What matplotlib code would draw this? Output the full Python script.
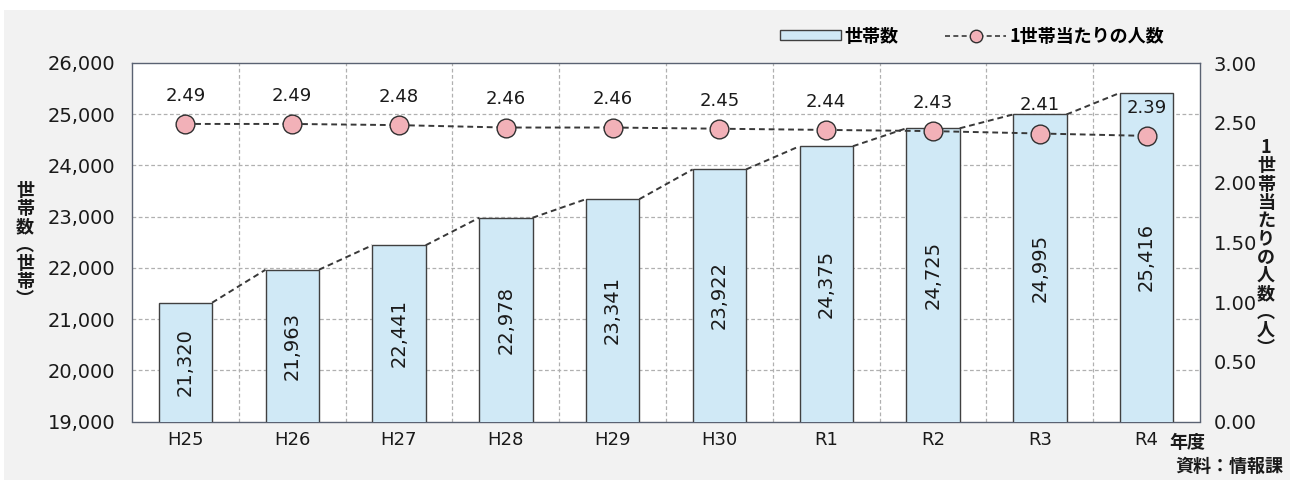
import matplotlib
matplotlib.use("Agg")
import matplotlib.pyplot as plt
from matplotlib.patches import Rectangle
from matplotlib.lines import Line2D

plt.rcParams['font.family'] = ['DejaVu Sans', 'Noto Sans CJK JP']
JP = ['Noto Sans CJK JP', 'DejaVu Sans']

categories = ["H25", "H26", "H27", "H28", "H29", "H30", "R1", "R2", "R3", "R4"]
households = [21320, 21963, 22441, 22978, 23341, 23922, 24375, 24725, 24995, 25416]
persons = [2.49, 2.49, 2.48, 2.46, 2.46, 2.45, 2.44, 2.43, 2.41, 2.39]
left_ticks = [19000, 20000, 21000, 22000, 23000, 24000, 25000, 26000]
right_ticks = [0.0, 0.5, 1.0, 1.5, 2.0, 2.5, 3.0]

BAR_FC = "#d0e9f6"
EDGE = "#404040"
MARKER_FC = "#f2b1b8"
BG = "#f2f2f2"
GRID = "#b0b0b0"
FRAME = "#5a6272"
TXT = "#1a1a1a"
LINE = "#383838"

fig = plt.figure(figsize=(12.9, 4.8), dpi=100)
fig.patch.set_facecolor("white")
fig.add_artist(Rectangle((4 / 1290, 0), 1 - 4 / 1290, 1 - 10 / 480,
                         transform=fig.transFigure, facecolor=BG,
                         edgecolor="none", zorder=-10))

ax = fig.add_axes([132 / 1290, 1 - 421.5 / 480, (1200 - 132) / 1290, (421.5 - 63) / 480])
ax.set_facecolor("white")
n = len(categories)
x = list(range(n))
bw = 0.5
ax.bar(x, households, width=bw, color=BAR_FC, edgecolor=EDGE, linewidth=1.0, zorder=3)

# series connection lines between bar tops
for i in range(n - 1):
    ax.plot([x[i] + bw / 2, x[i + 1] - bw / 2], [households[i], households[i + 1]],
            color=LINE, linestyle=(0, (3, 2)), linewidth=1.4, zorder=2.5)

ax.set_xlim(-0.5, n - 0.5)
ax.set_ylim(19000, 26000)
ax.set_yticks(left_ticks)
ax.set_yticklabels([f"{v:,}" for v in left_ticks], fontsize=14, color=TXT)
ax.set_xticks(x)
ax.set_xticklabels(categories, fontsize=13, color=TXT)
ax.tick_params(axis="y", length=0, pad=12)
ax.tick_params(axis="x", length=0, pad=7)

# grid
for yv in left_ticks[1:-1]:
    ax.axhline(yv, color=GRID, linestyle=(0, (3, 2)), linewidth=0.9, zorder=1)
for i in range(n - 1):
    ax.axvline(i + 0.5, color=GRID, linestyle=(0, (3, 2)), linewidth=0.9, zorder=1)

for s in ax.spines.values():
    s.set_color(FRAME)
    s.set_linewidth(1.0)

for xi, v in zip(x, households):
    ax.text(xi, (19000 + v) / 2, f"{v:,}", rotation=90, ha="center", va="center",
            fontsize=14, color=TXT, zorder=5)

ax2 = ax.twinx()
ax2.set_ylim(0, 3.0)
ax2.set_yticks(right_ticks)
ax2.set_yticklabels([f"{v:.2f}" for v in right_ticks], fontsize=14, color=TXT)
ax2.tick_params(axis="y", length=0, pad=10)
for s in ax2.spines.values():
    s.set_visible(False)
ax2.plot(x, persons, color=LINE, linestyle=(0, (3, 2)), linewidth=1.4,
         marker="o", markersize=13.5, markerfacecolor=MARKER_FC,
         markeredgecolor="#303030", markeredgewidth=1.0, zorder=6)
for xi, v in zip(x, persons):
    ax2.text(xi, v + 0.235, f"{v:.2f}", ha="center", va="center",
             fontsize=13, color=TXT, zorder=7)

# axis labels (vertical stacked text)
fig.text(25 / 1290, 1 - 245 / 480, "世\n帯\n数\n︵\n世\n帯\n︶", ha="center", va="center",
         fontsize=13, fontweight="bold", linespacing=0.95, family=JP, color=TXT)
fig.text(1266 / 1290, 1 - 248 / 480, "1\n世\n帯\n当\nた\nり\nの\n人\n数\n︵\n人\n︶",
         ha="center", va="center", fontsize=13, fontweight="bold", linespacing=0.95,
         family=JP, color=TXT)

fig.text(1205 / 1290, 1 - 442 / 480, "年度", ha="right", va="center",
         fontsize=13, fontweight="bold", family=JP, color=TXT)
fig.text(1283 / 1290, 1 - 466 / 480, "資料：情報課", ha="right", va="center",
         fontsize=13, fontweight="bold", family=JP, color=TXT)

# legend
handles = [
    Rectangle((0, 0), 1, 1, facecolor=BAR_FC, edgecolor=EDGE, linewidth=1.0),
    Line2D([0], [0], color=LINE, linestyle=(0, (3, 2)), linewidth=1.2,
           marker="o", markersize=9, markerfacecolor=MARKER_FC,
           markeredgecolor="#303030"),
]
leg = fig.legend(handles, ["世帯数", "1世帯当たりの人数"], loc="center right",
                 bbox_to_anchor=(1180 / 1290, 1 - 36 / 480), ncol=2, frameon=False,
                 prop={"size": 13, "weight": "bold", "family": JP}, handlelength=3.4,
                 handleheight=0.45, columnspacing=2.6, handletextpad=0.15)

fig.savefig("out.png", dpi=100, facecolor=fig.get_facecolor())
